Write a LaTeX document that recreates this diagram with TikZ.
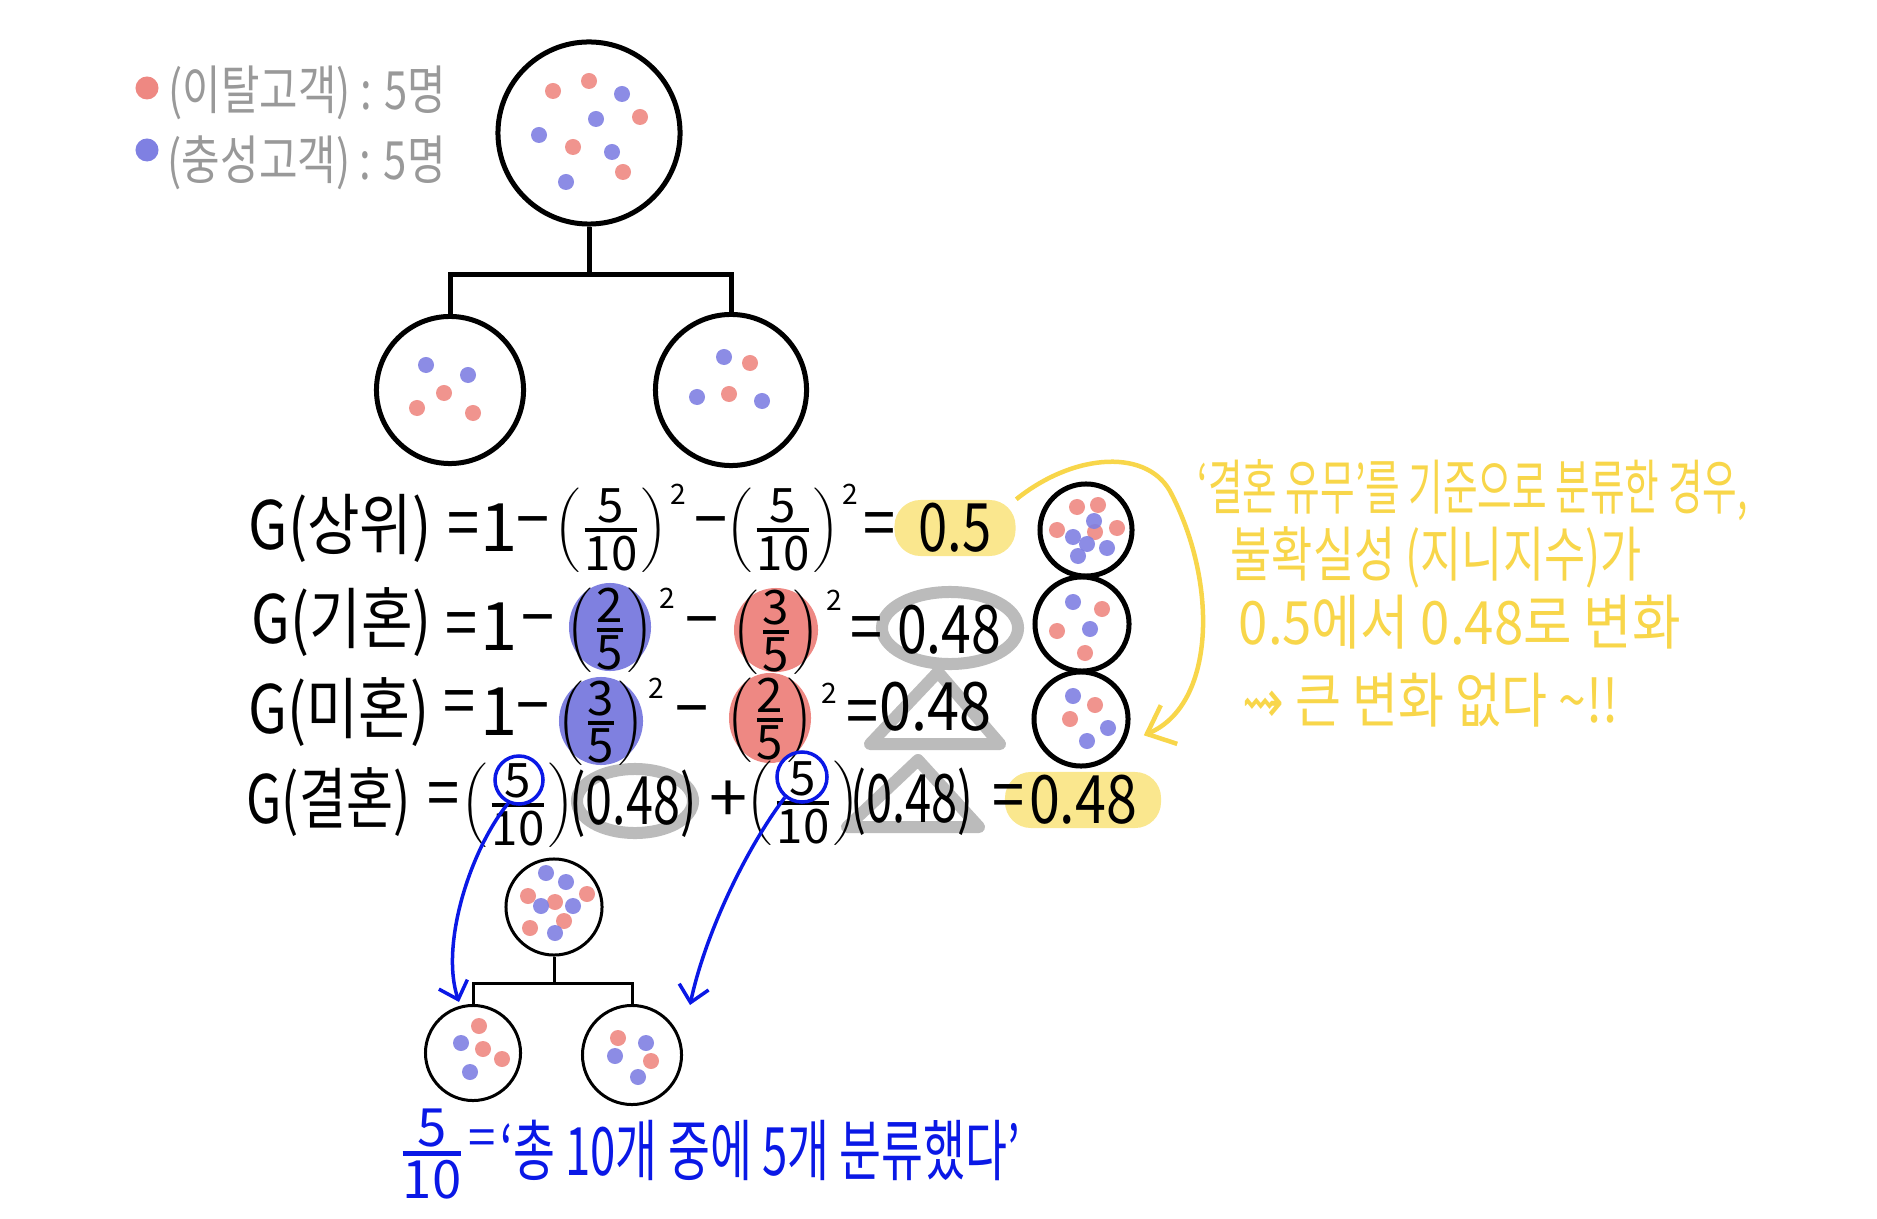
\documentclass[tikz,border=0pt]{standalone}
\usepackage{fontspec}
\usepackage{graphicx}
\setmainfont{Noto Sans CJK KR}
\newfontfamily\dejavu{DejaVu Sans}
\usetikzlibrary{arrows.meta}
\newlength\pxu \setlength\pxu{0.01cm}
\newcommand\fitw[2]{\resizebox{#1\pxu}{\height}{#2}}
\newcommand\fr[2]{\ensuremath{\left(\textstyle{\hbox{#1}\above 1.1pt\hbox{#2}}\right)}}
\newcommand\frn[2]{\ensuremath{\textstyle{\hbox{#1}\above 1.3pt\hbox{#2}}}}
\definecolor{dred}{HTML}{EE8882}
\definecolor{dblue}{HTML}{7F80E2}
\definecolor{hlblue}{HTML}{7F80E0}
\definecolor{hlred}{HTML}{EE8883}
\definecolor{hlgray}{HTML}{BBBBBB}
\definecolor{hlyel}{HTML}{FAE78E}
\definecolor{ytext}{HTML}{F8D64A}
\definecolor{pblue}{HTML}{0A18E6}
\definecolor{lgray}{HTML}{999999}
\newcommand\dr[2]{\fill[dred,opacity=0.9] (#1,#2) circle [radius=0.08cm];}
\newcommand\db[2]{\fill[dblue,opacity=0.9] (#1,#2) circle [radius=0.08cm];}
\newcommand\EQ{\fitw{32}{=}}
\newcommand\MI{\fitw{33}{−}}
\begin{document}
\begin{tikzpicture}[x=0.01cm,y=-0.01cm,
  txt/.style={inner sep=0, font=\fontsize{19}{22}\selectfont},
  frc/.style={inner sep=0, font=\fontsize{13.5}{15}\selectfont},
  sup/.style={inner sep=0, font=\fontsize{8}{10}\selectfont},
  ytx/.style={inner sep=0, anchor=west, text=ytext, font=\fontsize{17}{20}\selectfont},
  lgtx/.style={inner sep=0, anchor=west, text=lgray, font=\fontsize{15}{18}\selectfont},
  bigc/.style={draw, circle, line width=0.05cm, inner sep=0},
  smc/.style={draw, circle, line width=0.03cm, inner sep=0},
  bluec/.style={draw=pblue, circle, line width=0.035cm, inner sep=0},
  tree/.style={line width=0.05cm},
  stree/.style={line width=0.03cm},
  grayring/.style={draw=hlgray, line width=0.12cm},
  graytri/.style={draw=hlgray, line width=0.12cm, line join=round},
  hly/.style={fill=hlyel, rounded corners=0.26cm, inner sep=0},
  parrow/.style={pblue, line width=0.035cm, -{Straight Barb[length=0.16cm,width=0.3cm]}},
  yarrow/.style={ytext, line width=0.045cm, -{Straight Barb[length=0.24cm,width=0.42cm]}}]
\useasboundingbox (0,0) rectangle (1877,1219);

% legend
\fill[dred] (147,88) circle [radius=0.115cm];
\fill[dblue] (147,150) circle [radius=0.115cm];
\node[lgtx] (lg1) at (168,93) {\fitw{277}{(이탈고객) : 5명}};
\node[lgtx] (lg2) at (167,163) {\fitw{278}{(충성고객) : 5명}};

% top tree
\node[bigc, minimum size=1.82cm] (top) at (589,133) {};
\node[bigc, minimum size=1.47cm] (lc) at (450,390) {};
\node[bigc, minimum size=1.51cm] (rc) at (731,390) {};
\coordinate (j1) at (589,275);
\draw[tree] (top.south) -- (j1);
\draw[tree] (lc.north) |- (j1) -| (rc.north);
\dr{553}{91}\dr{589}{81}\db{622}{94}\dr{640}{117}\db{596}{119}
\db{539}{135}\dr{573}{147}\db{612}{152}\dr{623}{172}\db{566}{182}
\db{426}{365}\db{468}{375}\dr{444}{393}\dr{417}{408}\dr{473}{413}
\db{724}{357}\dr{750}{363}\db{697}{397}\dr{729}{394}\db{762}{401}

% highlights behind formulas
\fill[hlblue] (610,627) ellipse [x radius=0.41cm, y radius=0.44cm];
\fill[hlred] (776,630) ellipse [x radius=0.42cm, y radius=0.42cm];
\fill[hlblue] (601,721) ellipse [x radius=0.42cm, y radius=0.44cm];
\fill[hlred] (770,718) ellipse [x radius=0.41cm, y radius=0.45cm];
\draw[grayring] (950,628) ellipse [x radius=0.68cm, y radius=0.36cm];
\draw[graytri] (938,672) -- (870,744) -- (1000,744) -- cycle;
\draw[grayring] (635,801) ellipse [x radius=0.58cm, y radius=0.32cm];
\draw[graytri] (918,760) -- (847,827) -- (979,827) -- cycle;
\node[hly, minimum width=1.21cm, minimum height=0.56cm] (h05) at (955,528) {};
\node[hly, minimum width=1.56cm, minimum height=0.56cm] (h48) at (1083,800) {};

% row 1
\node[txt, anchor=west] (r1g) at (248,528) {\fitw{183}{G(상위)}};
\node[txt] (r1e) at (463,530) {\EQ};
\node[txt] (r1o) at (499,528) {1};
\node[txt] (r1m) at (533,530) {\MI};
\node[frc] (r1f1) at (611,530) {\fr{5}{10}};
\node[sup] (r1s1) at (678,494) {2};
\node[txt] (r1m2) at (711,530) {\MI};
\node[frc] (r1f2) at (783,530) {\fr{5}{10}};
\node[sup] (r1s2) at (850,494) {2};
\node[txt] (r1e2) at (879,530) {\EQ};
\node[txt] (r1v) at (h05) {\fitw{73}{0.5}};

% row 2
\node[txt, anchor=west] (r2g) at (251,622) {\fitw{180}{G(기혼)}};
\node[txt] (r2e) at (461,630) {\EQ};
\node[txt] (r2o) at (499,627) {1};
\node[txt] (r2m) at (538,628) {\MI};
\node[frc] (r2f1) at (610,630) {\fr{2}{5}};
\node[sup] (r2s1) at (667,598) {2};
\node[txt] (r2m2) at (702,630) {\MI};
\node[frc] (r2f2) at (776,632) {\fr{3}{5}};
\node[sup] (r2s2) at (834,600) {2};
\node[txt] (r2e2) at (866,634) {\EQ};
\node[txt] (r2v) at (949,630) {\fitw{104}{0.48}};

% row 3
\node[txt, anchor=west] (r3g) at (248,712) {\fitw{181}{G(미혼)}};
\node[txt] (r3e) at (459,708) {\EQ};
\node[txt] (r3o) at (499,712) {1};
\node[txt] (r3m) at (533,716) {\MI};
\node[frc] (r3f1) at (601,723) {\fr{3}{5}};
\node[sup] (r3s1) at (656,688) {2};
\node[txt] (r3m2) at (692,719) {\MI};
\node[frc] (r3f2) at (770,720) {\fr{2}{5}};
\node[sup] (r3s2) at (829,693) {2};
\node[txt] (r3e2) at (862,718) {\EQ};
\node[txt] (r3v) at (935,707) {\fitw{112}{0.48}};

% row 4
\node[txt, anchor=west] (r4g) at (246,802) {\fitw{164}{G(결혼)}};
\node[txt] (r4e) at (443,800) {\EQ};
\node[frc] (r4f1) at (518,805) {\fr{5}{10}};
\node[txt] (r4a) at (633,804) {\fitw{127}{(0.48)}};
\node[txt] (r4p) at (728,802) {\fitw{38}{+}};
\node[frc] (r4f2) at (803,803) {\fr{5}{10}};
\node[txt] (r4b) at (912,802) {\fitw{123}{(0.48)}};
\node[txt] (r4e2) at (1008,802) {\EQ};
\node[txt] (r4v) at (h48) {\fitw{108}{0.48}};
\node[bluec, minimum size=0.48cm] (bc1) at (519,780) {};
\node[bluec, minimum size=0.5cm] (bc2) at (802,777) {};

% right column circles
\node[bigc, minimum size=0.92cm] (k1) at (1086,530) {};
\node[bigc, minimum size=0.94cm] (k2) at (1082,624) {};
\node[bigc, minimum size=0.94cm] (k3) at (1081,719) {};
\dr{1077}{507}\dr{1098}{505}\dr{1057}{530}\dr{1095}{532}\dr{1117}{528}
\db{1094}{521}\db{1073}{537}\db{1087}{544}\db{1107}{548}\db{1078}{556}
\db{1073}{602}\dr{1102}{609}\dr{1057}{631}\db{1090}{629}\dr{1085}{653}
\db{1073}{696}\dr{1095}{705}\dr{1070}{719}\db{1108}{728}\db{1087}{741}

% yellow note and arrow
\draw[yarrow] (h05.north east) .. controls (1075,452) and (1150,448) .. (1172,495)
  .. controls (1218,585) and (1215,705) .. ([shift={(-18,-36)}]h48.north east);
\node[ytx] (y1) at (1197,490) {\fitw{550}{‘결혼 유무’를 기준으로 분류한 경우,}};
\node[ytx] (y2) at (1230,557) {\fitw{411}{불확실성 (지니지수)가}};
\node[ytx] (y3) at (1238,622) {\fitw{442}{0.5에서 0.48로 변화}};
\node[ytx] (y4) at (1242,700) {\fitw{376}{{\dejavu ⇝} 큰 변화 없다 \textasciitilde!!}};

% bottom tree
\node[smc, minimum size=0.96cm] (bt) at (554,907) {};
\node[smc, minimum size=0.95cm] (bl) at (473,1053) {};
\node[smc, minimum size=0.99cm] (br) at (632,1055) {};
\coordinate (j2) at (554,983);
\draw[stree] (bt.south) -- (j2);
\draw[stree] (bl.north) |- (j2) -| (br.north);
\db{546}{873}\db{566}{882}\dr{528}{896}\dr{555}{902}\dr{587}{894}
\db{541}{906}\db{573}{906}\dr{564}{921}\dr{530}{928}\db{555}{933}
\dr{479}{1026}\db{461}{1043}\dr{483}{1049}\dr{502}{1059}\db{470}{1072}
\dr{618}{1038}\db{646}{1043}\db{615}{1056}\dr{651}{1061}\db{638}{1077}

% blue arrows
\draw[parrow] (bc1.245) .. controls (470,850) and (440,945) .. (459,1002);
\draw[parrow] (bc2.230) .. controls (745,850) and (705,935) .. (690,1005);

% bottom text
\node[inner sep=0, font=\fontsize{15}{17}\selectfont] (bf) at (432,1154) {\color{pblue}\frn{5}{10}};
\node[inner sep=0, text=pblue, font=\fontsize{14}{16}\selectfont] (beq) at (482,1143) {=};
\node[txt, anchor=west, text=pblue] (bt1) at (500,1150) {\fitw{519}{‘총 10개 중에 5개 분류했다’}};
\end{tikzpicture}
\end{document}
